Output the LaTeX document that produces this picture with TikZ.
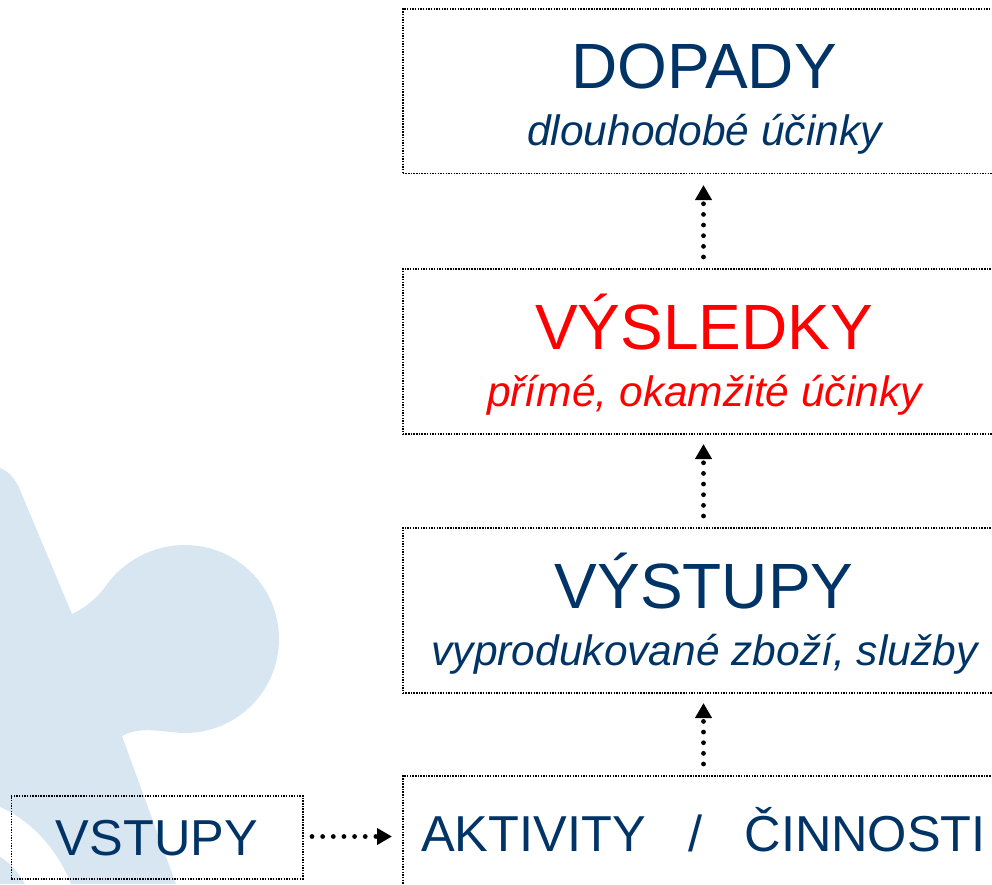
\documentclass[tikz,border=0pt]{standalone}
\usepackage{fontspec}
\setmainfont{Liberation Sans}
\usetikzlibrary{arrows.meta}
\definecolor{navy}{HTML}{003366}
\definecolor{blob}{HTML}{D8E6F1}
\tikzset{
  x=1pt,y=-1pt,
  frame/.style={draw=black,line width=1.6pt,dash pattern=on 1.4pt off 1.27pt,anchor=north west,inner sep=0pt},
  head/.style={font=\fontsize{64}{64}\selectfont,inner sep=0pt,anchor=base},
  sub/.style={font=\fontsize{42.5}{42.5}\selectfont\itshape,inner sep=0pt,anchor=base},
  low/.style={font=\fontsize{50.5}{50.5}\selectfont,inner sep=0pt,anchor=base},
  flow/.style={draw=black,line width=4.8pt,line cap=round,dash pattern=on 0pt off 10.65pt,-{Triangle[length=15pt,width=16pt,line cap=butt]}},
}
\begin{document}
\begin{tikzpicture}
\useasboundingbox (0,0) rectangle (992,884);
\clip (0,0) rectangle (992,884);
\fill[blob] (0,468) .. controls (10,472) and (16,480) .. (20,490) -- (72,614)
  .. controls (85,608) and (97,598) .. (105,587)
  .. controls (122,562) and (152,545) .. (185,545)
  arc[start angle=-90,end angle=90,radius=94]
  .. controls (165,733) and (142,725) .. (122,736)
  -- (176,884) -- (71,884) .. controls (60,855) and (35,822) .. (0,807) -- cycle;
\fill[blob] (0,857) .. controls (10,862) and (19,874) .. (25,884) -- (0,884) -- cycle;
\node[frame,minimum width=600pt,minimum height=164.5pt] (dopady) at (402,8) {};
\node[frame,minimum width=600pt,minimum height=165pt] (vysledky) at (402,268) {};
\node[frame,minimum width=600pt,minimum height=165pt] (vystupy) at (402,527) {};
\node[frame,minimum width=600pt,minimum height=130pt] (aktivity) at (402,775) {};
\node[frame,minimum width=291.5pt,minimum height=83pt] (vstupy) at (10.5,795) {};
\node[head,text=navy] (t1) at (704,88.5) {DOPADY};
\node[sub,text=navy] (s1) at (704.5,145) {dlouhodobé účinky};
\node[head,text=red] (t2) at (704,349) {VÝSLEDKY};
\node[sub,text=red] (s2) at (704.5,406) {přímé, okamžité účinky};
\node[head,text=navy] (t3) at (704,608) {VÝSTUPY};
\node[sub,text=navy] (s3) at (704.5,665) {vyprodukované zboží, služby};
\node[low,text=navy] (t4) at (703.5,851) {AKTIVITY\hspace{0.84em}/\hspace{0.84em}ČINNOSTI};
\node[low,text=navy] (t5) at (157,855) {VSTUPY};
\coordinate (a1) at (703.5,764); \coordinate (a1e) at (703.5,703);
\coordinate (a2) at (703.5,516); \coordinate (a2e) at (703.5,444);
\coordinate (a3) at (703.5,257); \coordinate (a3e) at (703.5,185);
\coordinate (a4) at (312,836.5); \coordinate (a4e) at (392,836.5);
\draw[flow] (a1) -- (a1e);
\draw[flow] (a2) -- (a2e);
\draw[flow] (a3) -- (a3e);
\draw[flow] (a4) -- (a4e);
\end{tikzpicture}
\end{document}
